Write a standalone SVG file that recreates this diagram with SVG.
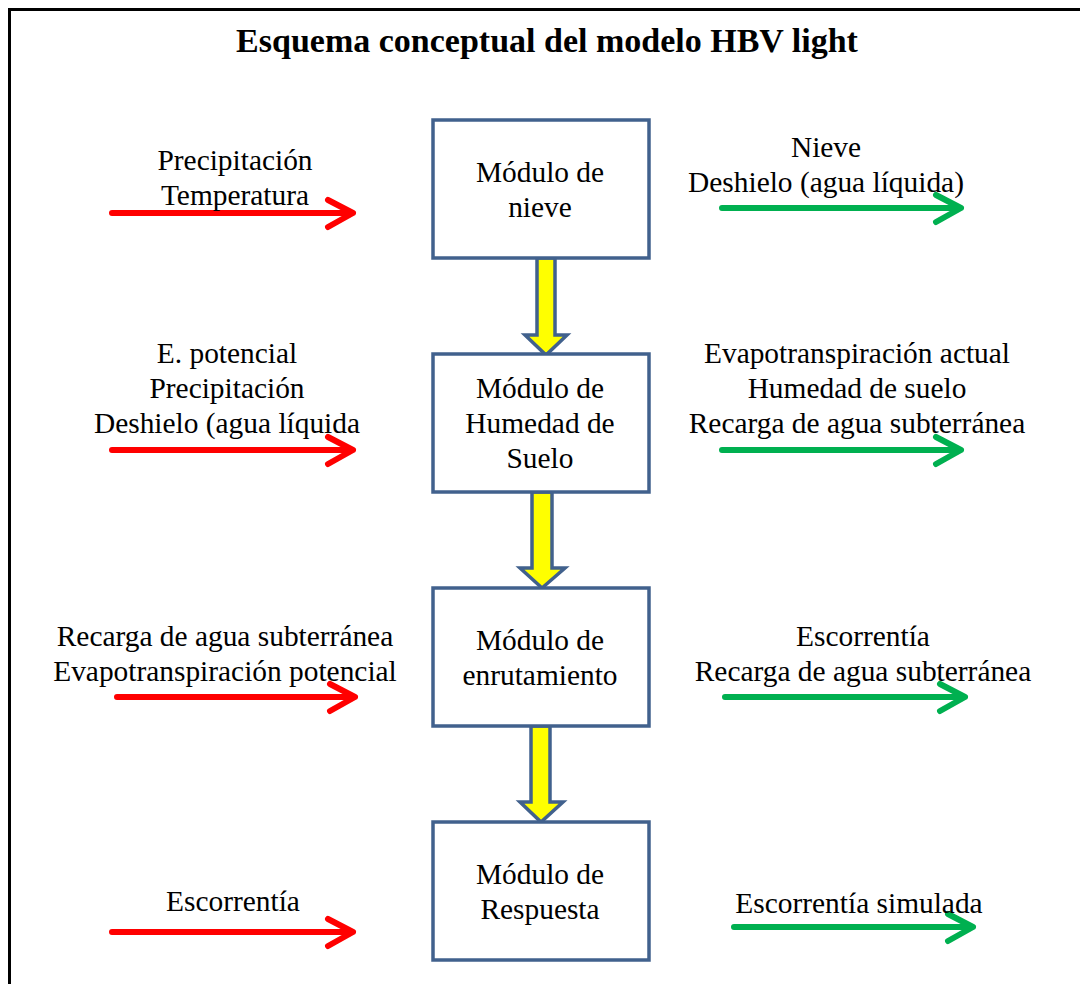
<svg xmlns="http://www.w3.org/2000/svg" width="1080" height="984" viewBox="0 0 1080 984">
<defs>
<style>
text{font-family:"Liberation Serif","Times New Roman",serif;font-size:29.4px;fill:#000;text-anchor:middle}
.title{font-size:34px;font-weight:bold}
.box{fill:#fff;stroke:#41618D;stroke-width:3.5}
.red{stroke:#FF0000;stroke-width:6;fill:none;stroke-linecap:round;stroke-linejoin:round}
.green{stroke:#00B050;stroke-width:6;fill:none;stroke-linecap:round;stroke-linejoin:round}
.yel{fill:#FFFF00;stroke:#41618D;stroke-width:3.5;stroke-linejoin:miter}
</style>
</defs>
<rect x="0" y="0" width="1080" height="984" fill="#fff"/>
<rect x="9.5" y="9.5" width="1100" height="1000" fill="none" stroke="#000" stroke-width="3"/>
<text class="title" x="547" y="52">Esquema conceptual del modelo HBV light</text>

<g id="connectors">
<path class="yel" d="M537,258 L555,258 L555,335 L567,335 L546,355 L525,335 L537,335 Z"/>
<path class="yel" d="M532,492 L552,492 L552,568 L565,568 L542,588 L520,568 L532,568 Z"/>
<path class="yel" d="M531,726 L550,726 L550,802 L563,802 L541,822 L520,802 L531,802 Z"/>
<g class="red">
<path d="M112,213 H352 M328,200 L353,213 L328,227"/>
<path d="M112,450 H352 M328,437 L353,450 L328,464"/>
<path d="M117,697 H354 M330,684 L355,697 L330,711"/>
<path d="M112,932 H352 M328,919 L353,932 L328,946"/>
</g>
<g class="green">
<path d="M722,208 H960 M936,195 L961,208 L936,222"/>
<path d="M722,450 H960 M936,437 L961,450 L936,464"/>
<path d="M725,697 H964 M940,684 L965,697 L940,711"/>
<path d="M734,927 H972 M948,914 L973,927 L948,941"/>
</g>
</g>

<g id="node1"><rect class="box" x="433" y="120" width="216" height="138"/>
<text x="540" y="182">Módulo de</text><text x="540" y="217">nieve</text></g>
<g id="node2"><rect class="box" x="433" y="354" width="216" height="138"/>
<text x="540" y="398">Módulo de</text><text x="540" y="433">Humedad de</text><text x="540" y="468">Suelo</text></g>
<g id="node3"><rect class="box" x="433" y="588" width="216" height="138"/>
<text x="540" y="650">Módulo de</text><text x="540" y="685">enrutamiento</text></g>
<g id="node4"><rect class="box" x="433" y="822" width="216" height="138"/>
<text x="540" y="884">Módulo de</text><text x="540" y="919">Respuesta</text></g>

<g id="labels">
<text x="235" y="170">Precipitación</text><text x="235" y="205">Temperatura</text>
<text x="826" y="157">Nieve</text><text x="826" y="192">Deshielo (agua líquida)</text>
<text x="227" y="363">E. potencial</text><text x="227" y="398">Precipitación</text><text x="227" y="433">Deshielo (agua líquida</text>
<text x="857" y="363">Evapotranspiración actual</text><text x="857" y="398">Humedad de suelo</text><text x="857" y="433">Recarga de agua subterránea</text>
<text x="225" y="646">Recarga de agua subterránea</text><text x="225" y="681">Evapotranspiración potencial</text>
<text x="863" y="646">Escorrentía</text><text x="863" y="681">Recarga de agua subterránea</text>
<text x="233" y="911">Escorrentía</text>
<text x="859" y="913">Escorrentía simulada</text>
</g>
</svg>
